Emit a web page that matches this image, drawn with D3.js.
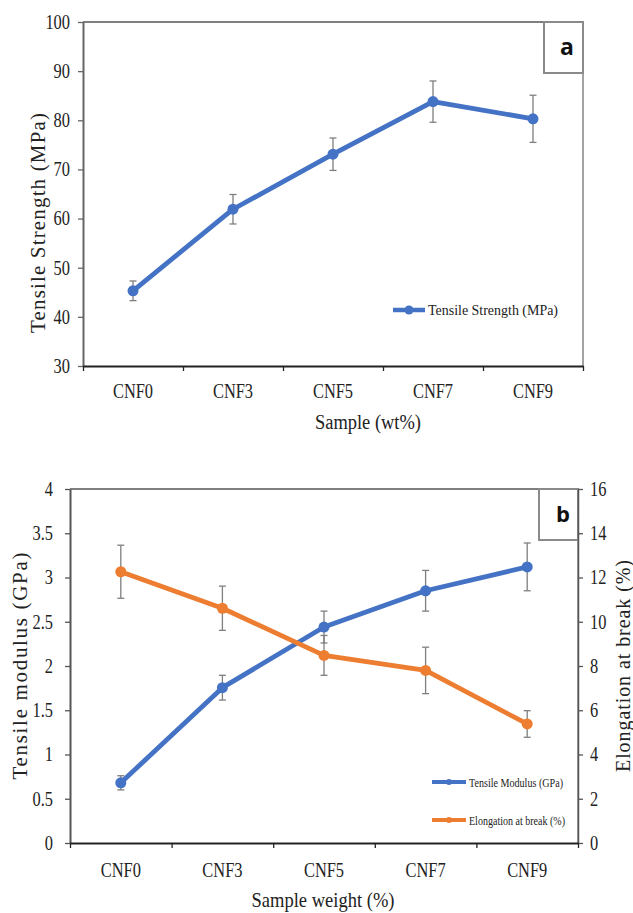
<!DOCTYPE html>
<html><head><meta charset="utf-8">
<script src="https://cdn.jsdelivr.net/npm/d3@7"></script>
<style>
body{margin:0;background:#fff;}
svg{display:block;}
svg text{font-family:"Liberation Serif","Times New Roman",serif;fill:#222;}
</style></head>
<body>
<svg id="c" width="633" height="913"></svg>
<script>
const categories = ["CNF0","CNF3","CNF5","CNF7","CNF9"];
const tensileStrength = [45.3, 61.9, 73.1, 83.8, 80.3];
const tensileStrengthErr = [2.0, 3.0, 3.3, 4.2, 4.8];
const tensileModulus = [0.68, 1.755, 2.44, 2.85, 3.12];
const tensileModulusErr = [0.08, 0.14, 0.18, 0.23, 0.27];
const elongation = [12.26, 10.61, 8.48, 7.8, 5.38];
const elongationErr = [1.2, 1.0, 0.9, 1.05, 0.6];
const ticksA = [30,40,50,60,70,80,90,100];
const ticksBLeft = [0,0.5,1,1.5,2,2.5,3,3.5,4];
const ticksBRight = [0,2,4,6,8,10,12,14,16];

const BLUE = "#4472C4", ORANGE = "#ED7D31", ERR = "#7f7f7f";
const SERIF = "Liberation Serif";
const svg = d3.select("#c");

function condense(sel, f){
  sel.each(function(){
    const w = this.getComputedTextLength();
    d3.select(this).attr("textLength", w*f).attr("lengthAdjust","spacingAndGlyphs");
  });
}

function frame(g, x0, x1, y0, y1, boxX, boxY1, letter, letterX, letterY, letterSize){
  g.append("line").attr("x1",x0).attr("x2",boxX).attr("y1",y0).attr("y2",y0)
    .attr("stroke","#555").attr("stroke-width",1.5);
  g.append("line").attr("x1",x1).attr("x2",x1).attr("y1",boxY1).attr("y2",y1)
    .attr("stroke","#666").attr("stroke-width",1.2);
  g.append("rect").attr("x",boxX).attr("y",y0).attr("width",x1-boxX).attr("height",boxY1-y0)
    .attr("fill","#fff").attr("stroke","#8a8a8a").attr("stroke-width",2);
  g.append("text").attr("x",letterX).attr("y",letterY).attr("text-anchor","middle")
    .style("font-family","Open Sans").style("font-weight","bold")
    .style("font-size",letterSize+"px").style("fill","#111").text(letter);
}

function styleAxis(g, color, width){
  g.attr("font-family", null);
  g.select(".domain").attr("stroke",color).attr("stroke-width",width);
  g.selectAll(".tick line").attr("stroke",color).attr("stroke-width",1.3);
  g.selectAll(".tick text").style("font-family",SERIF).style("font-size","20px").style("fill","#222");
}

function series(g, x, y, vals, errs, color, lw, r){
  const line = d3.line().x((d,i)=>x(categories[i])).y(d=>y(d));
  const eb = g.append("g");
  vals.forEach((v,i)=>{
    const cx = x(categories[i]);
    eb.append("line").attr("x1",cx).attr("x2",cx).attr("y1",y(v-errs[i])).attr("y2",y(v+errs[i]))
      .attr("stroke",ERR).attr("stroke-width",1.3);
    [v-errs[i], v+errs[i]].forEach(e=>{
      eb.append("line").attr("x1",cx-3.5).attr("x2",cx+3.5).attr("y1",y(e)).attr("y2",y(e))
        .attr("stroke",ERR).attr("stroke-width",1.3);
    });
  });
  g.append("path").datum(vals).attr("d",line).attr("fill","none").attr("stroke",color)
    .attr("stroke-width",lw).attr("stroke-linejoin","round");
  g.selectAll(null).data(vals).enter().append("circle")
    .attr("cx",(d,i)=>x(categories[i])).attr("cy",d=>y(d)).attr("r",r).attr("fill",color);
}

function serifText(sel){ return sel.style("font-family", SERIF); }

/* ---------------- Chart a ---------------- */
(function(){
  const L=83, R=583, T=22, B=366;
  const g = svg.append("g");
  const x = d3.scalePoint().domain(categories).range([L,R]).padding(0.5);
  const xe = d3.scaleLinear().domain([0,5]).range([L,R]);
  const y = d3.scaleLinear().domain([30,100]).range([B,T]);

  frame(g, L, R, T, B, 544, 73, "a", 567, 55, 23);

  const ya = g.append("g").attr("transform",`translate(${L},0)`)
    .call(d3.axisLeft(y).tickValues(ticksA).tickSize(5).tickSizeOuter(0).tickPadding(8));
  styleAxis(ya, "#666", 2);
  condense(ya.selectAll(".tick text"), 0.82);

  const xa = g.append("g").attr("transform",`translate(0,${B})`)
    .call(d3.axisBottom(xe).ticks(5).tickSize(5).tickSizeOuter(0).tickFormat(""));
  styleAxis(xa, "#222", 2);
  const xl = g.append("g").selectAll(null).data(categories).enter().append("text")
    .attr("x",d=>x(d)).attr("y",398).attr("text-anchor","middle").style("font-size","20px").style("font-family",SERIF).text(d=>d);
  condense(xl, 0.82);

  series(g, x, y, tensileStrength, tensileStrengthErr, BLUE, 4.8, 5.5);

  serifText(g.append("text").attr("x",368).attr("y",429).attr("text-anchor","middle").style("font-size","20px"))
    .attr("textLength",106).attr("lengthAdjust","spacingAndGlyphs").text("Sample (wt%)");
  serifText(g.append("text").attr("transform","translate(45,223) rotate(-90)").attr("text-anchor","middle"))
    .style("font-size","21px").attr("textLength",220).attr("lengthAdjust","spacing").text("Tensile Strength (MPa)");

  g.append("line").attr("x1",393).attr("x2",425).attr("y1",310).attr("y2",310)
    .attr("stroke",BLUE).attr("stroke-width",4.5);
  g.append("circle").attr("cx",409).attr("cy",310).attr("r",4.5).attr("fill",BLUE);
  serifText(g.append("text").attr("x",428).attr("y",315).style("font-size","15px"))
    .attr("textLength",130).attr("lengthAdjust","spacingAndGlyphs").text("Tensile Strength (MPa)");
})();

/* ---------------- Chart b ---------------- */
(function(){
  const L=70, R=578, T=489, B=843;
  const g = svg.append("g");
  const x = d3.scalePoint().domain(categories).range([L,R]).padding(0.5);
  const xe = d3.scaleLinear().domain([0,5]).range([L,R]);
  const yL = d3.scaleLinear().domain([0,4]).range([B,T]);
  const yR = d3.scaleLinear().domain([0,16]).range([B,T]);

  frame(g, L, R, T, B, 539, 540, "b", 563, 522, 22);

  const ya = g.append("g").attr("transform",`translate(${L},0)`)
    .call(d3.axisLeft(yL).tickValues(ticksBLeft).tickFormat(d=>String(d)).tickSize(5).tickSizeOuter(0).tickPadding(12));
  styleAxis(ya, "#555", 2);
  condense(ya.selectAll(".tick text"), 0.82);

  const yr = g.append("g").attr("transform",`translate(${R},0)`)
    .call(d3.axisRight(yR).tickValues(ticksBRight).tickSize(5).tickSizeOuter(0).tickPadding(7));
  styleAxis(yr, "#555", 1.5);
  condense(yr.selectAll(".tick text"), 0.82);

  const xa = g.append("g").attr("transform",`translate(0,${B})`)
    .call(d3.axisBottom(xe).ticks(5).tickSize(5).tickSizeOuter(0).tickFormat(""));
  styleAxis(xa, "#222", 2);
  const xl = g.append("g").selectAll(null).data(categories).enter().append("text")
    .attr("x",d=>x(d)).attr("y",877).attr("text-anchor","middle").style("font-size","20px").style("font-family",SERIF).text(d=>d);
  condense(xl, 0.82);

  series(g, x, yL, tensileModulus, tensileModulusErr, BLUE, 4.8, 5.5);
  series(g, x, yR, elongation, elongationErr, ORANGE, 4.8, 5.5);

  serifText(g.append("text").attr("x",323).attr("y",907).attr("text-anchor","middle").style("font-size","21px"))
    .attr("textLength",143).attr("lengthAdjust","spacingAndGlyphs").text("Sample weight (%)");
  serifText(g.append("text").attr("transform","translate(27,666) rotate(-90)").attr("text-anchor","middle"))
    .style("font-size","21px").attr("textLength",227).attr("lengthAdjust","spacing").text("Tensile modulus (GPa)");
  serifText(g.append("text").attr("transform","translate(630,666) rotate(-90)").attr("text-anchor","middle"))
    .style("font-size","20px").attr("textLength",212).attr("lengthAdjust","spacing").text("Elongation at break (%)");

  const leg = [["Tensile Modulus (GPa)", BLUE, 782, 94], ["Elongation at break (%)", ORANGE, 820, 96]];
  leg.forEach(([t,c,ly,w])=>{
    g.append("line").attr("x1",432).attr("x2",466).attr("y1",ly).attr("y2",ly)
      .attr("stroke",c).attr("stroke-width",4);
    g.append("circle").attr("cx",449).attr("cy",ly).attr("r",3).attr("fill",c);
    serifText(g.append("text").attr("x",469).attr("y",ly+4.5).style("font-size","13px"))
      .attr("textLength",w).attr("lengthAdjust","spacingAndGlyphs").text(t);
  });
})();
</script>
</body></html>
